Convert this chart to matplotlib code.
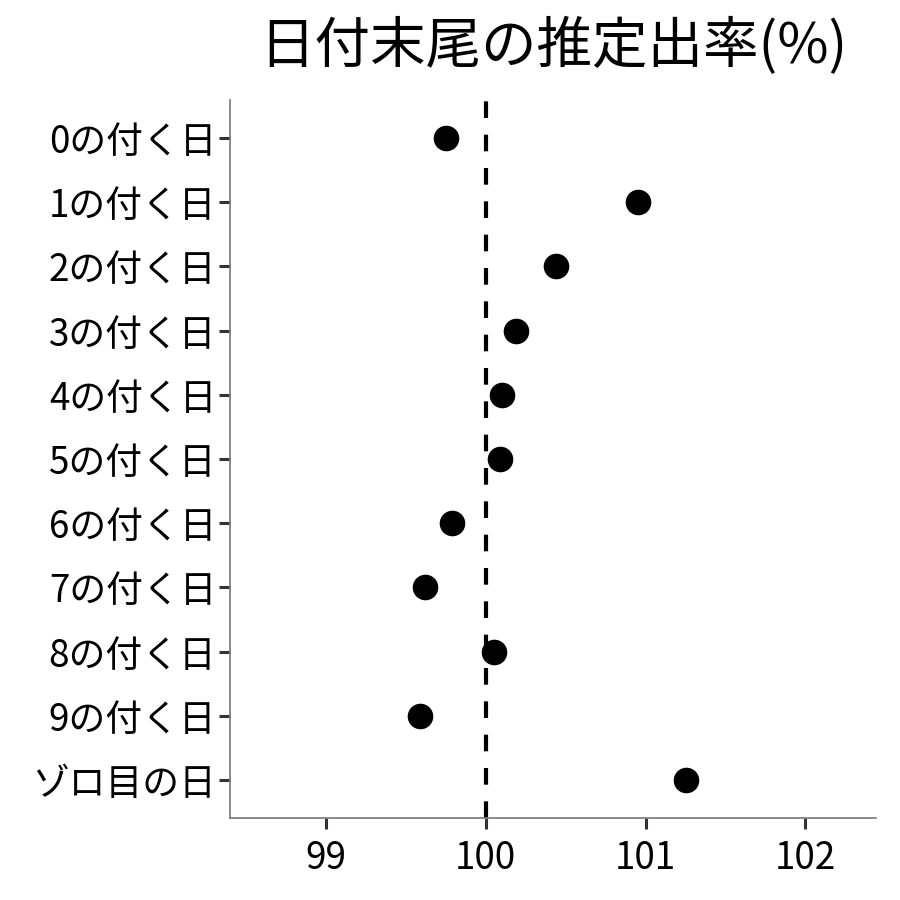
#日付末尾の推定出率
import numpy as np
import matplotlib
matplotlib.use("Agg")
import matplotlib.pyplot as plt

plt.rcParams['font.family'] = ['Noto Sans CJK JP', 'DejaVu Sans']

#data
labels = ['0の付く日', '1の付く日', '2の付く日', '3の付く日', '4の付く日',
          '5の付く日', '6の付く日', '7の付く日', '8の付く日', '9の付く日', 'ゾロ目の日']
rates = [99.75, 100.95, 100.44, 100.19, 100.10, 100.09, 99.79, 99.62, 100.05, 99.59, 101.25]
xticks = [99, 100, 101, 102]

fig = plt.figure(figsize=(9, 9), dpi=100)
ax = fig.add_axes([0.2556, 0.091, 0.7174, 0.798])

y = np.arange(len(labels))
ax.axvline(100, color='black', lw=3, linestyle=(0, (4, 4)), zorder=1)
ax.scatter(rates, y, s=340, color='black', zorder=3, linewidths=0)

ax.set_xlim(98.40, 102.44)
ax.set_ylim(len(labels) - 1 + 0.59, -0.59)
ax.set_yticks(y)
ax.set_yticklabels(labels)
ax.set_xticks(xticks)
ax.set_xticklabels([str(v) for v in xticks])

for s in ['top', 'right']:
    ax.spines[s].set_visible(False)
for s in ['left', 'bottom']:
    ax.spines[s].set_color('#777777')
    ax.spines[s].set_linewidth(1.2)

ax.tick_params(axis='both', length=8, width=2.2, color='#333333',
               labelsize=26.5, labelcolor='black')
ax.tick_params(axis='y', pad=2)
ax.tick_params(axis='x', pad=7)

fig.text(0.615, 0.948, '日付末尾の推定出率(%)', fontsize=40, ha='center', va='center')

plt.savefig('out.png', dpi=100)
